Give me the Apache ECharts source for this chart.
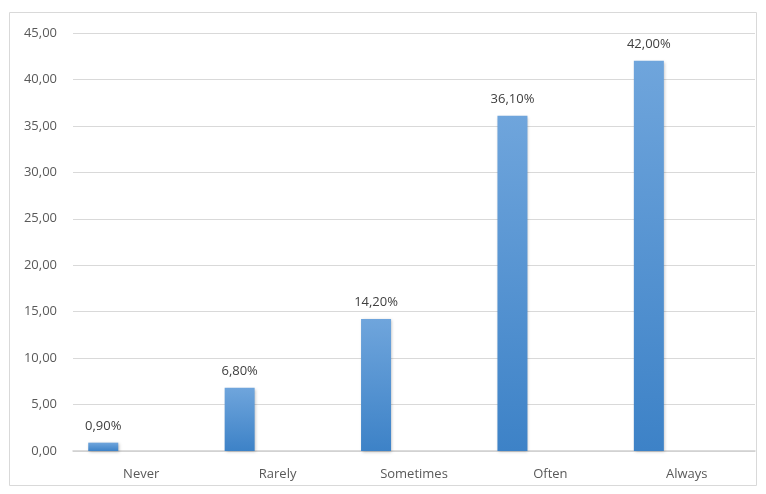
<!DOCTYPE html>
<html><head><meta charset="utf-8">
<script src="https://cdn.jsdelivr.net/npm/echarts@6/dist/echarts.min.js"></script>
<style>html,body{margin:0;padding:0;background:#fff}#c{width:766px;height:494px}</style>
</head><body><div id="c"></div>
<script>
var categories = ['Never', 'Rarely', 'Sometimes', 'Often', 'Always'];
var values = [0.9, 6.8, 14.2, 36.1, 42.0];
var emptySeries = [null, null, null, null, null];
var yTicks = [0, 5, 10, 15, 20, 25, 30, 35, 40, 45];

function fmt(v, d) { return v.toFixed(d).replace('.', ','); }

var chart = echarts.init(document.getElementById('c'), null, {renderer: 'canvas'});
chart.setOption({
  animation: false,
  textStyle: {fontFamily: 'Open Sans'},
  graphic: [{
    type: 'rect', shape: {x: 9.5, y: 12.5, width: 747, height: 473},
    style: {fill: 'none', stroke: '#d9d9d9', lineWidth: 1}, silent: true
  }],
  grid: {left: 73, right: 11, top: 33, bottom: 43},
  xAxis: {
    type: 'category', data: categories,
    axisLine: {lineStyle: {color: '#d0d0d0', width: 1.5}},
    axisTick: {show: false},
    axisLabel: {color: '#595959', fontSize: 13, margin: 17}
  },
  yAxis: {
    type: 'value', min: yTicks[0], max: yTicks[yTicks.length - 1], interval: 5,
    axisLine: {show: false}, axisTick: {show: false},
    splitLine: {lineStyle: {color: '#d9d9d9', width: 1}},
    axisLabel: {color: '#595959', fontSize: 13, margin: 16, formatter: function (v) { return fmt(v, 2); }}
  },
  series: [{
    type: 'bar', data: values, barWidth: 30, barGap: '153%',
    itemStyle: {
      color: new echarts.graphic.LinearGradient(0, 0, 0, 1, [
        {offset: 0, color: '#6fa5dc'}, {offset: 1, color: '#3d82c7'}
      ]),
      shadowColor: 'rgba(0,0,0,0.25)', shadowBlur: 3, shadowOffsetX: 1, shadowOffsetY: 1
    },
    label: {
      show: true, position: 'top', distance: 10, color: '#404040', fontSize: 13,
      formatter: function (p) { return fmt(p.value, 2) + '%'; }
    }
  }, {
    type: 'bar', data: emptySeries, barWidth: 30
  }]
});
</script></body></html>
